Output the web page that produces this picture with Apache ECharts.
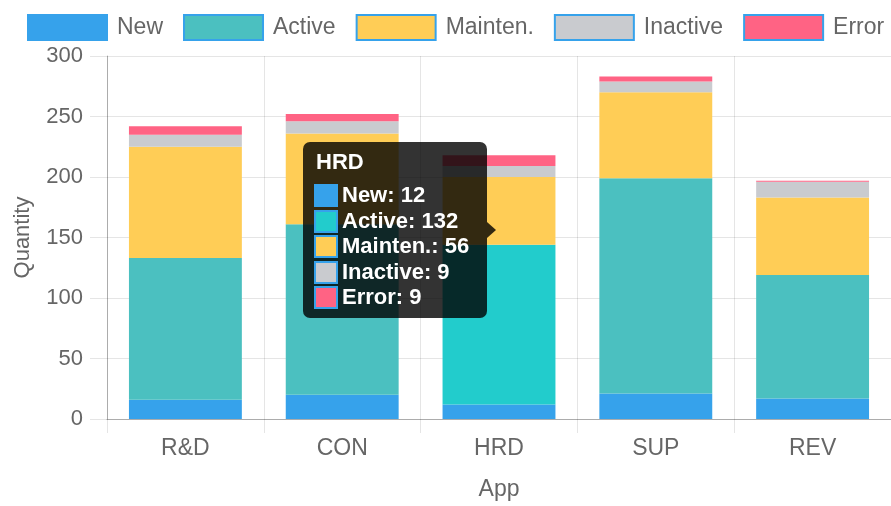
<!DOCTYPE html>
<html>
<head>
<meta charset="utf-8">
<script src="https://cdn.jsdelivr.net/npm/echarts@6/dist/echarts.min.js"></script>
<style>
  html, body { margin: 0; padding: 0; background: #fff; }
  #chart { width: 891px; height: 506px; }
</style>
</head>
<body>
<div id="chart"></div>
<script>
  // categories and stacked values
  var apps = ['R&D', 'CON', 'HRD', 'SUP', 'REV'];
  var seriesNames = ['New', 'Active', 'Mainten.', 'Inactive', 'Error'];
  var newData = [16, 20, 12, 21, 17];
  var activeData = [117, 141, 132, 178, 102];
  var maintenData = [92, 75, 56, 71, 64];
  var inactiveData = [10, 10, 9, 9, 13];
  var errorData = [7, 6, 9, 4, 1];
  var yTicks = [0, 50, 100, 150, 200, 250, 300];

  var colors = ['#36A2EB', '#4BC0C0', '#FFCD56', '#C9CBCF', '#FF6384'];
  var hoverColor = '#22CCCC';   // hovered Active segment of HRD
  var hoverIndex = 2;
  var font = '"Liberation Sans", Arial, Helvetica, sans-serif';
  var allData = [newData, activeData, maintenData, inactiveData, errorData];

  var chart = echarts.init(document.getElementById('chart'));

  var series = seriesNames.map(function (name, i) {
    return {
      name: name,
      type: 'bar',
      stack: 'total',
      barWidth: '72%',
      itemStyle: { color: colors[i] },
      emphasis: { disabled: true },
      data: allData[i].map(function (v, j) {
        if (i === 1 && j === hoverIndex) {
          return { value: v, itemStyle: { color: hoverColor } };
        }
        return v;
      })
    };
  });

  function tipHtml(params) {
    var j = params.dataIndex;
    var html = '<div style="position:relative;box-sizing:border-box;width:184px;padding:7px 0 8px 11px;' +
      'font-family:' + font.replace(/"/g, "'") + ';font-size:22px;font-weight:bold;color:#fff;white-space:nowrap;">';
    html += '<div style="line-height:26px;height:26px;margin-left:2px;margin-bottom:7px;">' + apps[j] + '</div>';
    seriesNames.forEach(function (name, i) {
      var c = (i === 1 && j === hoverIndex) ? hoverColor : colors[i];
      html += '<div style="height:25.5px;line-height:26px;">' +
        '<span style="display:inline-block;box-sizing:border-box;width:24px;height:23px;vertical-align:top;margin-top:2px;' +
        'border:2px solid #36A2EB;background:' + c + ';margin-right:4px;"></span>' +
        name + ': ' + allData[i][j] + '</div>';
    });
    // caret pointing right
    html += '<div style="position:absolute;right:-9px;top:80px;width:0;height:0;border-top:8px solid transparent;' +
      'border-bottom:8px solid transparent;border-left:9px solid rgba(0,0,0,0.8);"></div>';
    html += '</div>';
    return html;
  }

  var option = {
    animation: false,
    textStyle: { fontFamily: font },
    legend: {
      data: seriesNames,
      left: 27,
      top: 14,
      padding: 0,
      icon: 'rect',
      itemWidth: 79,
      itemHeight: 25,
      itemGap: 20,
      itemStyle: { borderColor: '#36A2EB', borderWidth: 2 },
      textStyle: { color: '#666', fontSize: 23, fontFamily: font, padding: [0, 0, 0, 5] },
      selectedMode: false
    },
    tooltip: {
      trigger: 'item',
      triggerOn: 'none',
      alwaysShowContent: true,
      transitionDuration: 0,
      position: [303, 142],
      padding: 0,
      borderWidth: 0,
      backgroundColor: 'rgba(0,0,0,0.8)',
      extraCssText: 'box-shadow:none;border-radius:7px;',
      formatter: tipHtml
    },
    grid: { left: 107, right: 0, top: 56, bottom: 83, containLabel: false },
    xAxis: {
      type: 'category',
      data: apps,
      name: 'App',
      nameLocation: 'middle',
      nameGap: 59,
      nameTextStyle: { color: '#666', fontSize: 23, fontFamily: font },
      axisLine: { lineStyle: { color: 'rgba(0,0,0,0.25)', width: 1 } },
      axisTick: { show: true, length: 14, lineStyle: { color: 'rgba(0,0,0,0.1)' } },
      axisLabel: { color: '#666', fontSize: 23, fontFamily: font, margin: 18 },
      splitLine: { show: true, lineStyle: { color: 'rgba(0,0,0,0.1)' } }
    },
    yAxis: {
      type: 'value',
      min: yTicks[0],
      max: yTicks[yTicks.length - 1],
      interval: yTicks[1] - yTicks[0],
      name: 'Quantity',
      nameLocation: 'middle',
      nameRotate: 90,
      nameGap: 73,
      nameTextStyle: { color: '#666', fontSize: 22, fontFamily: font },
      axisLine: { show: true, lineStyle: { color: 'rgba(0,0,0,0.25)', width: 1 } },
      axisTick: { show: true, length: 17, lineStyle: { color: 'rgba(0,0,0,0.1)' } },
      axisLabel: { color: '#666', fontSize: 22, fontFamily: font, margin: 24 },
      splitLine: { show: true, lineStyle: { color: 'rgba(0,0,0,0.1)' } }
    },
    series: series
  };

  chart.setOption(option);
  chart.dispatchAction({ type: 'showTip', seriesIndex: 1, dataIndex: hoverIndex });
</script>
</body>
</html>
